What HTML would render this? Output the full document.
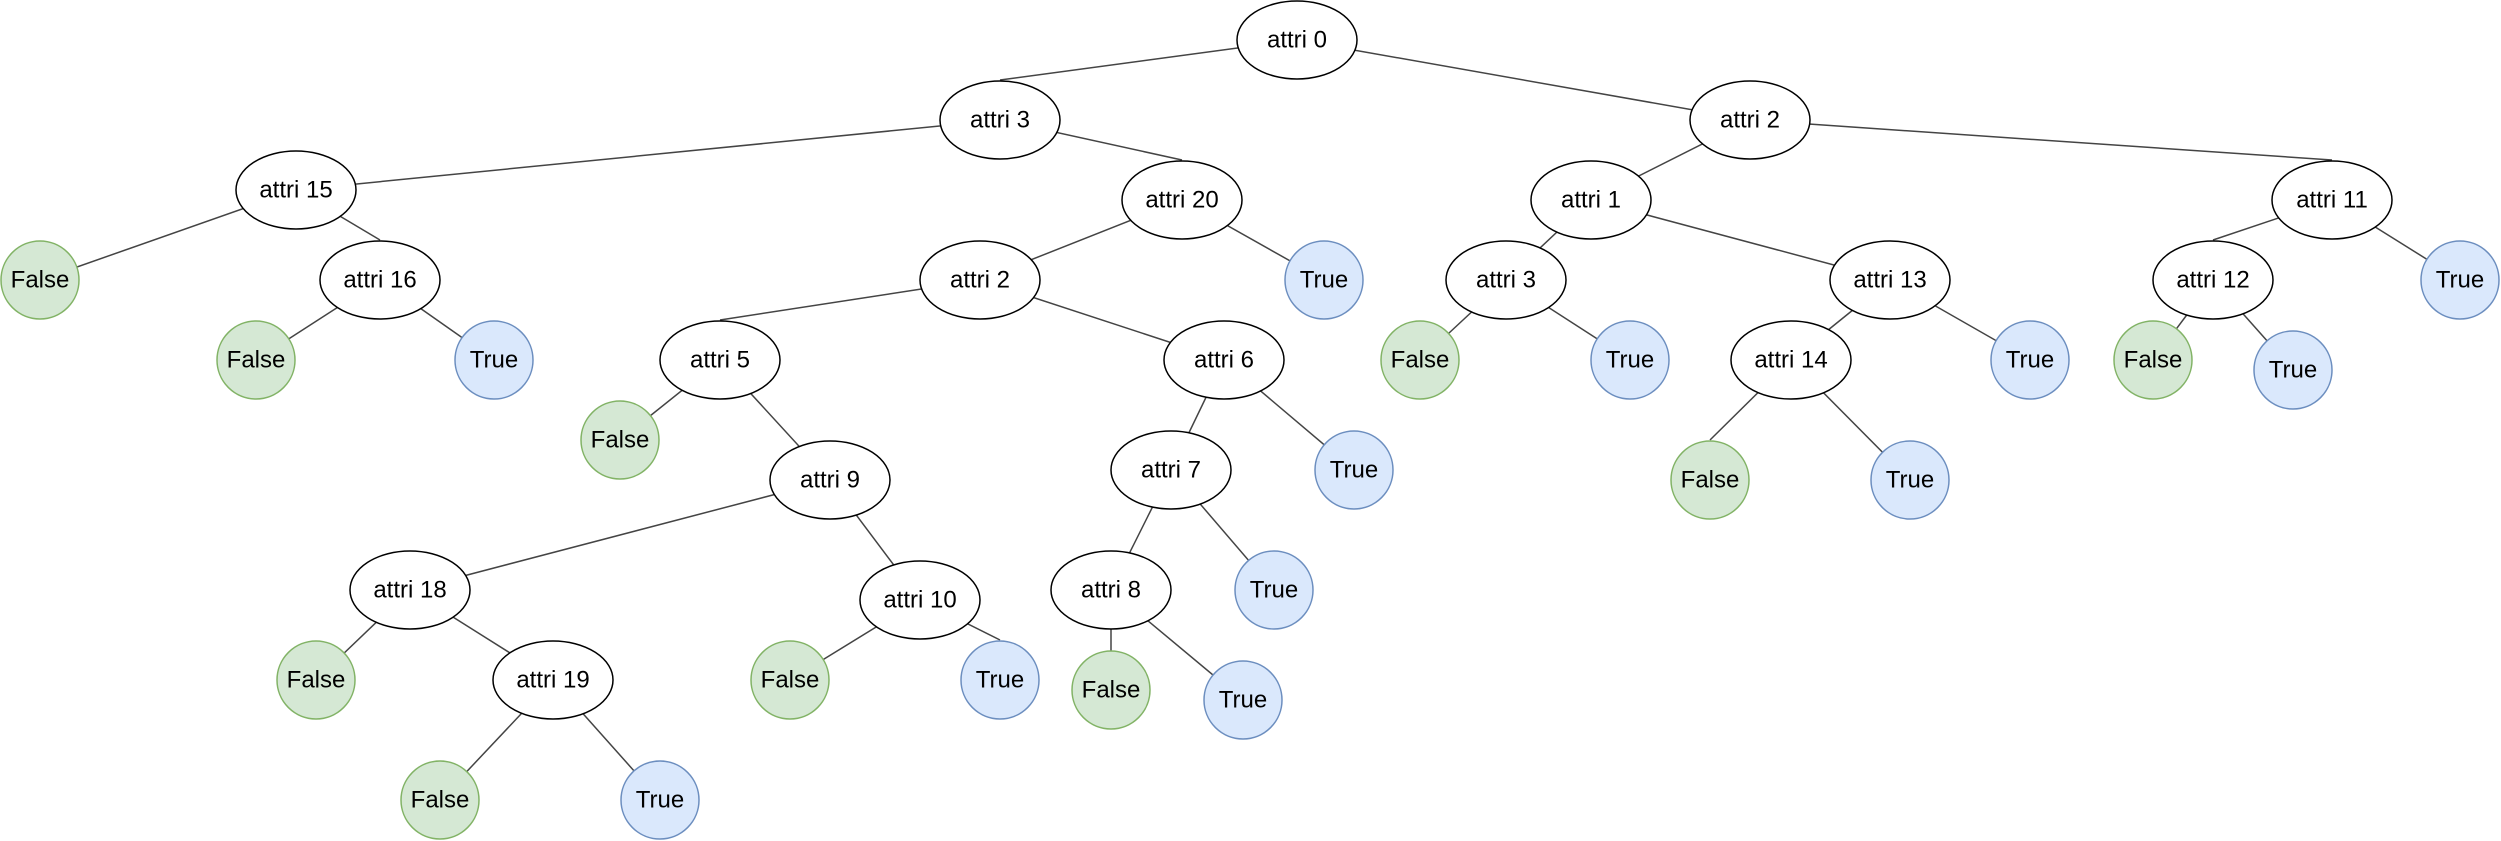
<!DOCTYPE html>
<html><head><meta charset="utf-8"><style>
html,body{margin:0;padding:0;background:#fff;}
svg{display:block;}
text{font-family:"Liberation Sans",Arial,sans-serif;font-size:24px;text-anchor:middle;dominant-baseline:central;fill:#000;}
</style></head><body>
<svg width="2501" height="841" viewBox="0 0 2501 841" xmlns="http://www.w3.org/2000/svg">
<g stroke="#444" stroke-width="1.5">
<line x1="1297" y1="40" x2="1000" y2="80"/>
<line x1="1297" y1="40" x2="1750" y2="120"/>
<line x1="1000" y1="120" x2="296" y2="190"/>
<line x1="1000" y1="120" x2="1182" y2="160"/>
<line x1="296" y1="190" x2="40" y2="280"/>
<line x1="296" y1="190" x2="380" y2="240"/>
<line x1="380" y1="280" x2="256" y2="360"/>
<line x1="380" y1="280" x2="494" y2="360"/>
<line x1="1182" y1="200" x2="980" y2="280"/>
<line x1="1182" y1="200" x2="1324" y2="280"/>
<line x1="980" y1="280" x2="720" y2="320"/>
<line x1="980" y1="280" x2="1224" y2="360"/>
<line x1="720" y1="360" x2="620" y2="440"/>
<line x1="720" y1="360" x2="830" y2="480"/>
<line x1="830" y1="480" x2="410" y2="590"/>
<line x1="830" y1="480" x2="920" y2="600"/>
<line x1="410" y1="590" x2="316" y2="680"/>
<line x1="410" y1="590" x2="553" y2="680"/>
<line x1="553" y1="680" x2="440" y2="800"/>
<line x1="553" y1="680" x2="660" y2="800"/>
<line x1="920" y1="600" x2="790" y2="680"/>
<line x1="920" y1="600" x2="1000" y2="640"/>
<line x1="1224" y1="360" x2="1171" y2="470"/>
<line x1="1224" y1="360" x2="1354" y2="470"/>
<line x1="1171" y1="470" x2="1111" y2="590"/>
<line x1="1171" y1="470" x2="1274" y2="590"/>
<line x1="1111" y1="590" x2="1111" y2="690"/>
<line x1="1111" y1="590" x2="1243" y2="700"/>
<line x1="1750" y1="120" x2="1591" y2="200"/>
<line x1="1750" y1="120" x2="2332" y2="160"/>
<line x1="1591" y1="200" x2="1506" y2="280"/>
<line x1="1591" y1="200" x2="1890" y2="280"/>
<line x1="1506" y1="280" x2="1420" y2="360"/>
<line x1="1506" y1="280" x2="1630" y2="360"/>
<line x1="1890" y1="280" x2="1791" y2="360"/>
<line x1="1890" y1="280" x2="2030" y2="360"/>
<line x1="1791" y1="360" x2="1710" y2="440"/>
<line x1="1791" y1="360" x2="1910" y2="480"/>
<line x1="2332" y1="200" x2="2213" y2="240"/>
<line x1="2332" y1="200" x2="2460" y2="280"/>
<line x1="2213" y1="280" x2="2153" y2="360"/>
<line x1="2213" y1="280" x2="2293" y2="370"/>
</g>
<g fill="#fff" stroke="#000" stroke-width="1.5">
<ellipse cx="1297" cy="40" rx="60" ry="39"/>
<ellipse cx="1000" cy="120" rx="60" ry="39"/>
<ellipse cx="1750" cy="120" rx="60" ry="39"/>
<ellipse cx="296" cy="190" rx="60" ry="39"/>
<ellipse cx="380" cy="280" rx="60" ry="39"/>
<ellipse cx="1182" cy="200" rx="60" ry="39"/>
<ellipse cx="980" cy="280" rx="60" ry="39"/>
<ellipse cx="720" cy="360" rx="60" ry="39"/>
<ellipse cx="1224" cy="360" rx="60" ry="39"/>
<ellipse cx="830" cy="480" rx="60" ry="39"/>
<ellipse cx="410" cy="590" rx="60" ry="39"/>
<ellipse cx="553" cy="680" rx="60" ry="39"/>
<ellipse cx="920" cy="600" rx="60" ry="39"/>
<ellipse cx="1171" cy="470" rx="60" ry="39"/>
<ellipse cx="1111" cy="590" rx="60" ry="39"/>
<ellipse cx="1591" cy="200" rx="60" ry="39"/>
<ellipse cx="1506" cy="280" rx="60" ry="39"/>
<ellipse cx="1890" cy="280" rx="60" ry="39"/>
<ellipse cx="1791" cy="360" rx="60" ry="39"/>
<ellipse cx="2332" cy="200" rx="60" ry="39"/>
<ellipse cx="2213" cy="280" rx="60" ry="39"/>
</g>
<g fill="#d5e8d4" stroke="#82b366" stroke-width="1.5">
<ellipse cx="40" cy="280" rx="39" ry="39"/>
<ellipse cx="256" cy="360" rx="39" ry="39"/>
<ellipse cx="620" cy="440" rx="39" ry="39"/>
<ellipse cx="316" cy="680" rx="39" ry="39"/>
<ellipse cx="440" cy="800" rx="39" ry="39"/>
<ellipse cx="790" cy="680" rx="39" ry="39"/>
<ellipse cx="1111" cy="690" rx="39" ry="39"/>
<ellipse cx="1420" cy="360" rx="39" ry="39"/>
<ellipse cx="1710" cy="480" rx="39" ry="39"/>
<ellipse cx="2153" cy="360" rx="39" ry="39"/>
</g>
<g fill="#dae8fc" stroke="#6c8ebf" stroke-width="1.5">
<ellipse cx="494" cy="360" rx="39" ry="39"/>
<ellipse cx="660" cy="800" rx="39" ry="39"/>
<ellipse cx="1000" cy="680" rx="39" ry="39"/>
<ellipse cx="1324" cy="280" rx="39" ry="39"/>
<ellipse cx="1354" cy="470" rx="39" ry="39"/>
<ellipse cx="1274" cy="590" rx="39" ry="39"/>
<ellipse cx="1243" cy="700" rx="39" ry="39"/>
<ellipse cx="1630" cy="360" rx="39" ry="39"/>
<ellipse cx="2030" cy="360" rx="39" ry="39"/>
<ellipse cx="1910" cy="480" rx="39" ry="39"/>
<ellipse cx="2460" cy="280" rx="39" ry="39"/>
<ellipse cx="2293" cy="370" rx="39" ry="39"/>
</g>
<g>
<text x="1297" y="40">attri 0</text>
<text x="1000" y="120">attri 3</text>
<text x="1750" y="120">attri 2</text>
<text x="296" y="190">attri 15</text>
<text x="380" y="280">attri 16</text>
<text x="1182" y="200">attri 20</text>
<text x="980" y="280">attri 2</text>
<text x="720" y="360">attri 5</text>
<text x="1224" y="360">attri 6</text>
<text x="830" y="480">attri 9</text>
<text x="410" y="590">attri 18</text>
<text x="553" y="680">attri 19</text>
<text x="920" y="600">attri 10</text>
<text x="1171" y="470">attri 7</text>
<text x="1111" y="590">attri 8</text>
<text x="1591" y="200">attri 1</text>
<text x="1506" y="280">attri 3</text>
<text x="1890" y="280">attri 13</text>
<text x="1791" y="360">attri 14</text>
<text x="2332" y="200">attri 11</text>
<text x="2213" y="280">attri 12</text>
<text x="40" y="280">False</text>
<text x="256" y="360">False</text>
<text x="620" y="440">False</text>
<text x="316" y="680">False</text>
<text x="440" y="800">False</text>
<text x="790" y="680">False</text>
<text x="1111" y="690">False</text>
<text x="1420" y="360">False</text>
<text x="1710" y="480">False</text>
<text x="2153" y="360">False</text>
<text x="494" y="360">True</text>
<text x="660" y="800">True</text>
<text x="1000" y="680">True</text>
<text x="1324" y="280">True</text>
<text x="1354" y="470">True</text>
<text x="1274" y="590">True</text>
<text x="1243" y="700">True</text>
<text x="1630" y="360">True</text>
<text x="2030" y="360">True</text>
<text x="1910" y="480">True</text>
<text x="2460" y="280">True</text>
<text x="2293" y="370">True</text>
</g>
</svg>
</body></html>
